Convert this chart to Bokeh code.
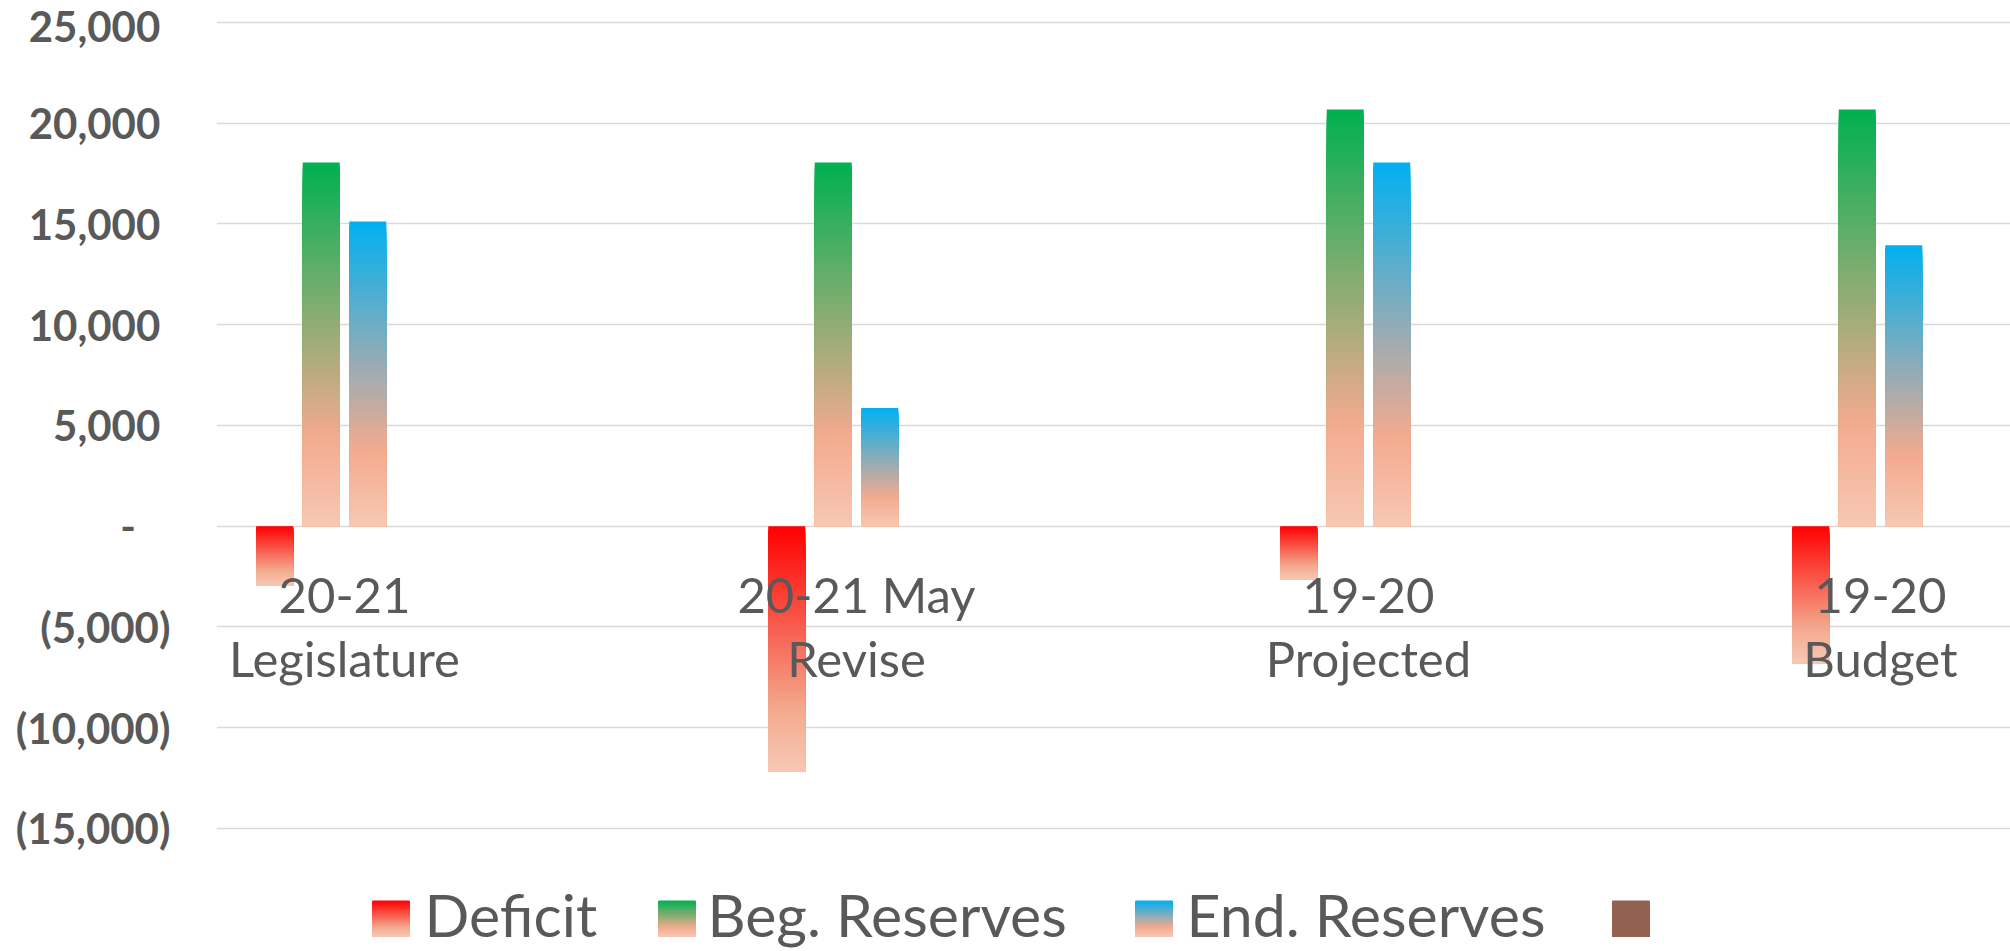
import numpy as np
from bokeh.plotting import figure
from bokeh.models import Range1d, FixedTicker
from bokeh.embed import file_html
from bokeh.resources import INLINE
from bokeh.core.properties import value

# ---------------- data ----------------
categories = ["20-21\nLegislature", "20-21 May\nRevise", "19-20\nProjected", "19-20\nBudget"]
series_names = ["Deficit", "Beg. Reserves", "End. Reserves", ""]
deficit = [-2930, -12170, -2650, -6800]
beg_reserves = [18050, 18050, 20680, 20680]
end_reserves = [15120, 5860, 18045, 13940]
other = [0, 0, 0, 0]
y_ticks = [-15000, -10000, -5000, 0, 5000, 10000, 15000, 20000, 25000]
y_tick_labels = ["(15,000)", "(10,000)", "(5,000)", "-", "5,000", "10,000", "15,000", "20,000", "25,000"]

# ---------------- styles ----------------
SALMON = "#F3AA8F"
LIGHT = "#F7C8B3"
gradients = [
    [(0.0, "#FF0000"), (0.75, SALMON), (1.0, LIGHT)],
    [(0.0, "#00B050"), (0.75, SALMON), (1.0, LIGHT)],
    [(0.0, "#00B0F0"), (0.75, SALMON), (1.0, LIGHT)],
    [(0.0, "#946250"), (1.0, "#946250")],
]
TEXT = "#595959"
GRID = "#D9D9D9"
FONT = "Lato"
N = 90

W, H = 2010, 950
FRAME_LEFT = 216          # page px of plot area left edge
CAT_PX = 512.0            # px per category
FIRST_CAT_PX = 344.0      # page px of first category centre
ZERO_PX = 525.7           # page px of value 0
PX_PER_UNIT = 100.75 / 5000.0


def hex2rgb(h):
    h = h.lstrip("#")
    return np.array([int(h[i:i + 2], 16) for i in (0, 2, 4)], dtype=float)


def color_at(stops, t):
    for (p0, c0), (p1, c1) in zip(stops[:-1], stops[1:]):
        if t <= p1:
            f = 0 if p1 == p0 else (t - p0) / (p1 - p0)
            c = hex2rgb(c0) * (1 - f) + hex2rgb(c1) * f
            return "#%02x%02x%02x" % tuple(int(round(v)) for v in c)
    return stops[-1][1]


def px2x(px):
    return (px - FIRST_CAT_PX) / CAT_PX


def py2y(py):
    return (ZERO_PX - py) / PX_PER_UNIT


p = figure(width=W, height=H,
           x_range=Range1d(px2x(FRAME_LEFT), px2x(W)),
           y_range=Range1d(py2y(H), py2y(0)),
           output_backend="svg", toolbar_location=None,
           min_border_left=FRAME_LEFT, min_border_right=0, min_border_top=0, min_border_bottom=0)
p.outline_line_color = None
p.background_fill_color = "white"
p.border_fill_color = "white"

p.xgrid.grid_line_color = None
p.ygrid.ticker = FixedTicker(ticks=y_ticks)
p.ygrid.grid_line_color = GRID
p.ygrid.grid_line_width = 1.6

overrides = {}
for t, lab in zip(y_ticks, y_tick_labels):
    if t > 0:
        overrides[t] = lab + "\u00a0"
    elif t == 0:
        overrides[t] = lab + "\u2007\u00a0"
    else:
        overrides[t] = lab
p.yaxis.ticker = FixedTicker(ticks=y_ticks)
p.yaxis.major_label_overrides = overrides
p.yaxis.axis_line_color = None
p.yaxis.major_tick_line_color = None
p.yaxis.minor_tick_line_color = None
p.yaxis.major_label_text_font = FONT
p.yaxis.major_label_text_font_style = "bold"
p.yaxis.major_label_text_font_size = "42px"
p.yaxis.major_label_text_color = TEXT
p.yaxis.major_label_standoff = 40

p.xaxis.fixed_location = 0
p.xaxis.ticker = FixedTicker(ticks=list(range(len(categories))))
p.xaxis.major_label_overrides = {i: c for i, c in enumerate(categories)}
p.xaxis.axis_line_color = None
p.xaxis.major_tick_line_color = None
p.xaxis.minor_tick_line_color = None
p.xaxis.major_label_text_font = FONT
p.xaxis.major_label_text_font_size = "49px"
p.xaxis.major_label_text_color = TEXT
p.xaxis.major_label_text_line_height = 1.1
p.xaxis.major_label_standoff = 33

# ---------------- bars with vertical gradients ----------------
bar_w = 37 / CAT_PX
offsets = [-69.75 / CAT_PX, -23.25 / CAT_PX, 23.25 / CAT_PX, 69.75 / CAT_PX]
all_series = [deficit, beg_reserves, end_reserves, other]

for s, vals in enumerate(all_series):
    xs, tops, bots, cols = [], [], [], []
    for i, v in enumerate(vals):
        if v == 0:
            continue
        hi, lo = max(v, 0), min(v, 0)
        for k in range(N):
            t = (k + 0.5) / N
            xs.append(i + offsets[s])
            tops.append(hi - (hi - lo) * k / N)
            bots.append(lo)
            cols.append(color_at(gradients[s], t))
    if xs:
        p.vbar(x=xs, width=bar_w, top=tops, bottom=bots, fill_color=cols, line_color=None)

# ---------------- legend ----------------
sw_x = [372, 658, 1135, 1612]
sw_size = 37
sw_top, sw_bot = 900, 936
txt_x = [424, 707, 1186, None]
for s in range(4):
    ls, rs, ts, bs, cs = [], [], [], [], []
    for k in range(N):
        t = (k + 0.5) / N
        ls.append(px2x(sw_x[s])); rs.append(px2x(sw_x[s] + sw_size))
        ts.append(py2y(sw_top + (sw_bot - sw_top) * k / N)); bs.append(py2y(sw_bot))
        cs.append(color_at(gradients[s], t))
    p.quad(left=ls, right=rs, top=ts, bottom=bs, fill_color=cs, line_color=None)
    if series_names[s]:
        p.text(x=[px2x(txt_x[s])], y=[py2y(913.5)], text=[series_names[s]],
               text_font=value(FONT), text_font_size="59px", text_color=TEXT,
               text_align="left", text_baseline="middle")

open("out.html", "w").write(file_html(p, INLINE))
